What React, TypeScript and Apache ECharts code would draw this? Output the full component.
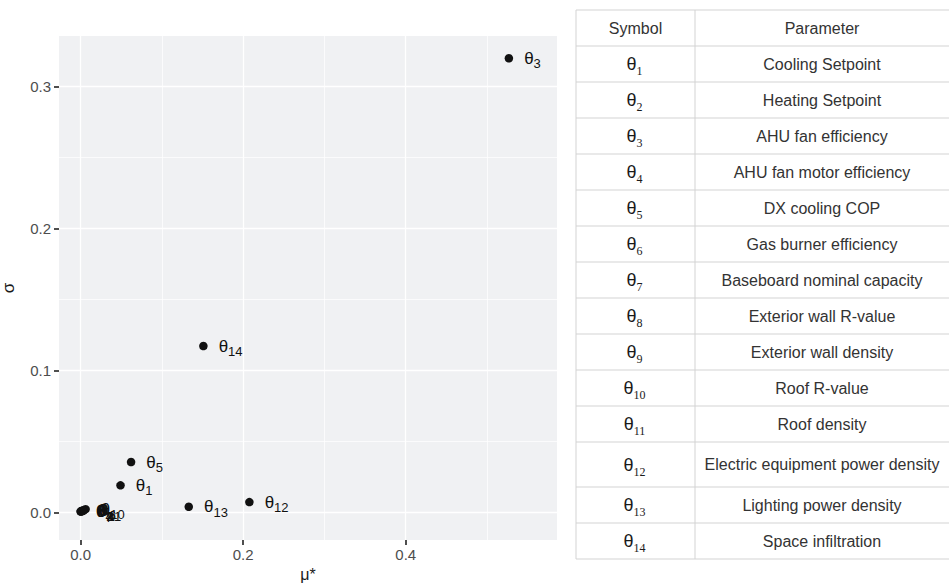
import React, { useEffect, useRef } from 'react';
import * as echarts from 'echarts';

// ---- data ----
const pointLabels = ['1', '2', '3', '4', '5', '6', '7', '8', '9', '10', '11', '12', '13', '14'];
const muStar = [0.049, 0.001, 0.527, 0.0, 0.062, 0.004, 0.0, 0.002, 0.001, 0.006, 0.003, 0.2076, 0.133, 0.151];
const sigma = [0.0193, 0.0012, 0.32, 0.001, 0.0357, 0.0018, 0.0008, 0.0015, 0.001, 0.0025, 0.0013, 0.0075, 0.0042, 0.1174];
const xTicks = [0, 0.2, 0.4];
const xMinor = [0.1, 0.3, 0.5];
const yTicks = [0, 0.1, 0.2, 0.3];
const yMinor = [0.05, 0.15, 0.25];
const tableHeader = ['Symbol', 'Parameter'];
const tableParams = [
  'Cooling Setpoint',
  'Heating Setpoint',
  'AHU fan efficiency',
  'AHU fan motor efficiency',
  'DX cooling COP',
  'Gas burner efficiency',
  'Baseboard nominal capacity',
  'Exterior wall R-value',
  'Exterior wall density',
  'Roof R-value',
  'Roof density',
  'Electric equipment power density',
  'Lighting power density',
  'Space infiltration',
];

const X_MIN = -0.0267;
const X_MAX = 0.5862;
const Y_MIN = -0.0192;
const Y_MAX = 0.3357;

const sans = '"Liberation Sans", Arial, sans-serif';

function buildTable(): any[] {
  const els: any[] = [];
  const left = 576;
  const mid = 695;
  const right = 949;
  const top = 10;
  const heights = [36, 36, 36, 36, 36, 36, 36, 36, 36, 36, 36, 36, 45, 36, 36];
  const lineColor = '#d3d3d3';
  let y = top;
  const ys: number[] = [y];
  heights.forEach((h) => {
    y += h;
    ys.push(y);
  });
  ys.forEach((yy) => {
    els.push({
      type: 'line',
      shape: { x1: left, y1: yy, x2: right, y2: yy },
      style: { stroke: lineColor, lineWidth: 1 },
    });
  });
  [left, mid].forEach((xx) => {
    els.push({
      type: 'line',
      shape: { x1: xx, y1: top, x2: xx, y2: ys[ys.length - 1] },
      style: { stroke: lineColor, lineWidth: 1 },
    });
  });
  const c1 = (left + mid) / 2;
  const c2 = 822;
  const font = '16px ' + sans;
  els.push({
    type: 'text',
    x: c1,
    y: top + heights[0] / 2,
    style: { text: tableHeader[0], fill: '#333', font, align: 'center', verticalAlign: 'middle' },
  });
  els.push({
    type: 'text',
    x: c2,
    y: top + heights[0] / 2,
    style: { text: tableHeader[1], fill: '#333', font, align: 'center', verticalAlign: 'middle' },
  });
  tableParams.forEach((p, i) => {
    const cy = (ys[i + 1] + ys[i + 2]) / 2;
    els.push({
      type: 'text',
      x: c1 - 1,
      y: cy,
      style: {
        text: '{t|θ}{s|' + pointLabels[i] + '}',
        align: 'center',
        verticalAlign: 'middle',
        rich: {
          t: { fontSize: 18, fontFamily: sans, fill: '#1a1a1a', lineHeight: 26, verticalAlign: 'middle' },
          s: { fontSize: 12, fontFamily: '"Liberation Serif", "Times New Roman", serif', fill: '#1a1a1a', lineHeight: 12, verticalAlign: 'bottom' },
        },
      },
    });
    els.push({
      type: 'text',
      x: c2,
      y: cy,
      style: { text: p, fill: '#333', font, align: 'center', verticalAlign: 'middle' },
    });
  });
  return els;
}

export default function App() {
  const ref = useRef<HTMLDivElement>(null);
  useEffect(() => {
    if (!ref.current) return;
    const chart = echarts.init(ref.current, undefined, { renderer: 'svg' });
    const data = pointLabels.map((l, i) => ({ name: l, value: [muStar[i], sigma[i]] }));
    chart.setOption({
      animation: false,
      backgroundColor: '#ffffff',
      grid: {
        left: 59,
        top: 36,
        width: 498,
        height: 504,
        show: true,
        backgroundColor: '#f0f1f3',
        borderWidth: 0,
        containLabel: false,
        outerBoundsMode: 'none',
      },
      xAxis: [
        {
          type: 'value',
          min: X_MIN,
          max: X_MAX,
          name: 'μ*',
          nameLocation: 'middle',
          nameGap: 26,
          nameTextStyle: { fontSize: 16, color: '#1a1a1a', fontFamily: sans },
          axisLine: { show: false, onZero: false },
          axisTick: { show: true, inside: false, length: 5, customValues: xTicks, lineStyle: { color: '#222', width: 1.6 } },
          axisLabel: {
            customValues: xTicks,
            formatter: (v: number) => v.toFixed(1),
            color: '#4d4d4d',
            fontSize: 15,
            fontFamily: sans,
            margin: 7,
          },
          splitLine: { show: true, lineStyle: { color: '#ffffff', width: 1.3 } },
        },
        {
          type: 'value',
          min: X_MIN,
          max: X_MAX,
          position: 'bottom',
          axisLine: { show: false, onZero: false },
          axisTick: { show: false, customValues: xMinor },
          axisLabel: { show: false, customValues: xMinor },
          splitLine: { show: true, lineStyle: { color: '#ffffff', width: 0.7 } },
        },
      ],
      yAxis: [
        {
          type: 'value',
          min: Y_MIN,
          max: Y_MAX,
          name: 'σ',
          nameLocation: 'middle',
          nameGap: 42,
          nameRotate: 90,
          nameTextStyle: { fontSize: 17, color: '#1a1a1a', fontFamily: sans },
          axisLine: { show: false, onZero: false },
          axisTick: { show: true, inside: false, length: 5, customValues: yTicks, lineStyle: { color: '#222', width: 1.6 } },
          axisLabel: {
            customValues: yTicks,
            formatter: (v: number) => v.toFixed(1),
            color: '#4d4d4d',
            fontSize: 15,
            fontFamily: sans,
            margin: 8,
          },
          splitLine: { show: true, lineStyle: { color: '#ffffff', width: 1.3 } },
        },
        {
          type: 'value',
          min: Y_MIN,
          max: Y_MAX,
          position: 'left',
          axisLine: { show: false, onZero: false },
          axisTick: { show: false, customValues: yMinor },
          axisLabel: { show: false, customValues: yMinor },
          splitLine: { show: true, lineStyle: { color: '#ffffff', width: 0.7 } },
        },
      ],
      series: [
        {
          type: 'scatter',
          xAxisIndex: 0,
          yAxisIndex: 0,
          data,
          symbol: 'circle',
          symbolSize: 8.5,
          itemStyle: { color: '#111111', opacity: 1 },
          label: {
            show: true,
            position: 'right',
            distance: 11,
            formatter: (p: any) => '{t|θ}{s|' + p.name + '}',
            rich: {
              t: { fontSize: 17, fontFamily: sans, color: '#111', lineHeight: 24, verticalAlign: 'middle' },
              s: { fontSize: 13, fontFamily: sans, color: '#111', lineHeight: 13, verticalAlign: 'bottom' },
            },
          },
        },
      ],
      graphic: buildTable(),
    });
    return () => chart.dispose();
  }, []);
  return <div ref={ref} style={{ width: 949, height: 584, position: 'absolute', left: 0, top: 0 }} />;
}
